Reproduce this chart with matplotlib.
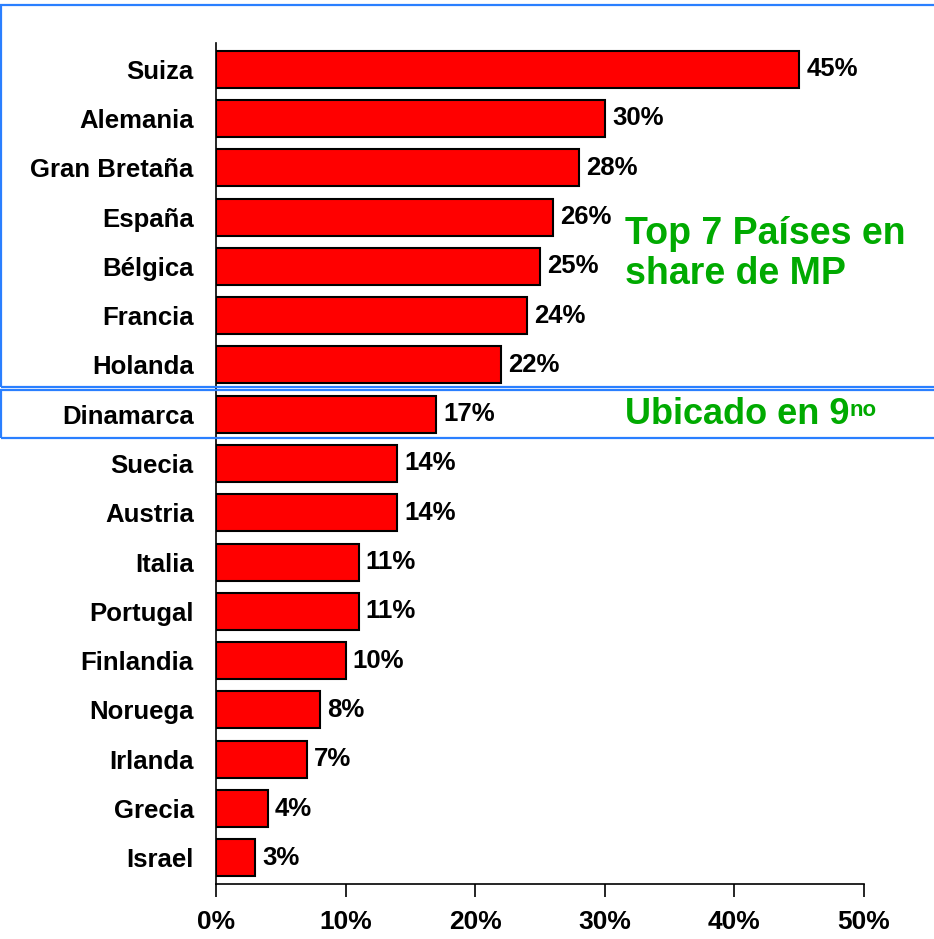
import matplotlib
matplotlib.use("Agg")
import matplotlib.pyplot as plt
from matplotlib.patches import Rectangle
from matplotlib.ticker import FuncFormatter

countries = ["Suiza", "Alemania", "Gran Bretaña", "España", "Bélgica", "Francia",
             "Holanda", "Dinamarca", "Suecia", "Austria", "Italia", "Portugal",
             "Finlandia", "Noruega", "Irlanda", "Grecia", "Israel"]
shares = [45, 30, 28, 26, 25, 24, 22, 17, 14, 14, 11, 11, 10, 8, 7, 4, 3]
xticks = [0, 10, 20, 30, 40, 50]

RED = "#ff0000"
GREEN = "#00aa00"
BLUE = "#2a7fff"
FONT = "Liberation Sans"

plt.rcParams["font.family"] = [FONT, "DejaVu Sans"]
plt.rcParams["font.weight"] = "bold"

fig = plt.figure(figsize=(9.34, 9.39), dpi=100)
ax = fig.add_axes([216 / 934, 1 - 884 / 939, 648 / 934, 841 / 939])

y = list(range(len(countries)))
ax.barh(y, shares, height=0.75, color=RED, edgecolor="black", lw=1.5, zorder=3)
for yi, v in zip(y, shares):
    ax.text(v + 0.55, yi, f"{v}%", va="center", ha="left", fontsize=18.5,
            fontweight="bold")

ax.set_xlim(0, 50)
ax.set_ylim(len(countries) - 0.47, -0.53)
ax.set_yticks(y)
ax.set_yticklabels(countries, fontsize=18.5, fontweight="bold")
ax.set_xticks(xticks)
ax.xaxis.set_major_formatter(FuncFormatter(lambda v, p: f"{v:.0f}%"))
for lab in ax.get_xticklabels():
    lab.set_fontsize(19)
    lab.set_fontweight("bold")
ax.tick_params(axis="y", length=0, pad=16)
ax.tick_params(axis="x", direction="out", length=9, width=1.2, pad=10)
for s in ("top", "right"):
    ax.spines[s].set_visible(False)
ax.spines["left"].set_linewidth(1.2)
ax.spines["bottom"].set_linewidth(1.2)

# highlight boxes (figure coords)
fig.patches.append(Rectangle((1 / 934, 1 - 387 / 939), 2, (387 - 5) / 939,
                             transform=fig.transFigure, fill=False,
                             edgecolor=BLUE, lw=1.6))
fig.patches.append(Rectangle((1 / 934, 1 - 438 / 939), 2, (438 - 390) / 939,
                             transform=fig.transFigure, fill=False,
                             edgecolor=BLUE, lw=1.6))

fig.text(625 / 934, 1 - 254 / 939, "Top 7 Países en\nshare de MP", color=GREEN,
         fontsize=27, fontweight="bold", ha="left", va="center",
         linespacing=1.12)
t = fig.text(625 / 934, 1 - 414 / 939, "Ubicado en 9", color=GREEN,
             fontsize=26, fontweight="bold", ha="left", va="center")
ax.annotate("no", xy=(1, 0.9), xycoords=t, va="top", ha="left",
            color=GREEN, fontsize=16, fontweight="bold",
            annotation_clip=False)

fig.savefig("out.png", dpi=100)
